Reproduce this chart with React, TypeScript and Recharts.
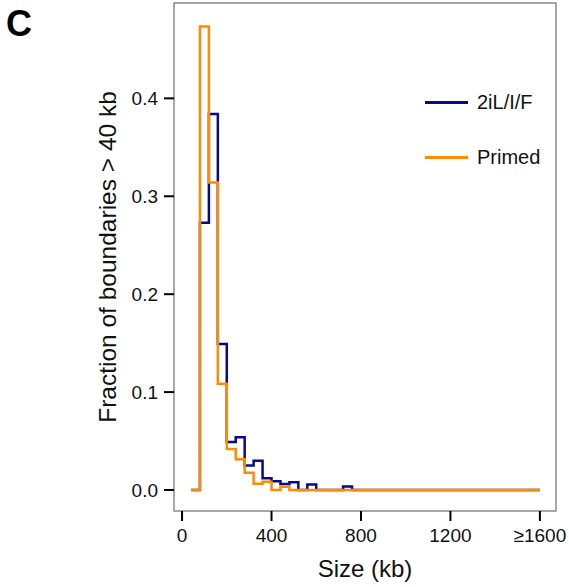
import { LineChart, Line, XAxis, YAxis, ReferenceArea, Legend } from "recharts";

// bin left edges (kb) and fraction per bin; last point closes the final bin
const naiveEdges = [40, 80, 120, 160, 200, 240, 280, 320, 360, 400, 440, 480, 520, 560, 600, 720, 760, 1600];
const naiveFrac = [0, 0.273, 0.384, 0.149, 0.049, 0.054, 0.025, 0.03, 0.012, 0.009, 0.006, 0.0078, 0, 0.0055, 0, 0.0035, 0, 0];

const primedEdges = [40, 80, 120, 160, 200, 240, 280, 320, 360, 400, 440, 480, 1600];
const primedFrac = [0, 0.4735, 0.314, 0.1085, 0.042, 0.0313, 0.0177, 0.0065, 0.0085, 0, 0.0034, 0, 0];

const xTicks = [0, 400, 800, 1200, 1600];
const xTickLabels = ["0", "400", "800", "1200", "≥1600"];
const yTicks = [0, 0.1, 0.2, 0.3, 0.4];

const NAVY = "#0a0a88";
const ORANGE = "#ff8c00";
const FONT = '"Liberation Sans", Arial, Helvetica, sans-serif';

const naiveData = naiveEdges.map((x, i) => ({ x, y: naiveFrac[i] }));
const primedData = primedEdges.map((x, i) => ({ x, y: primedFrac[i] }));

const legendItems = [
    { name: "2iL/I/F", color: NAVY },
    { name: "Primed", color: ORANGE },
];

const LegendBox = () => (
    <div style={{ fontFamily: FONT, fontSize: 20, color: "#111" }}>
        {legendItems.map((item, i) => (
            <div
                key={item.name}
                style={{ display: "flex", alignItems: "center", height: 30, marginBottom: i === 0 ? 25 : 0 }}
            >
                <span style={{ display: "inline-block", width: 43, height: 3, background: item.color, marginRight: 9 }} />
                <span>{item.name}</span>
            </div>
        ))}
    </div>
);

export default function App() {
    return (
        <div style={{ position: "absolute", left: 0, top: 0, width: 569, height: 587, background: "#fff", fontFamily: FONT }}>
            <div style={{ position: "absolute", left: 6, top: 6, fontSize: 36, lineHeight: "36px", fontWeight: "bold", color: "#000" }}>
                C
            </div>
            <LineChart width={569} height={587} data={primedData} margin={{ top: 3, right: 13, left: 0, bottom: 0 }}>
                <XAxis
                    type="number"
                    dataKey="x"
                    domain={[-36, 1672]}
                    allowDataOverflow
                    ticks={xTicks}
                    tickFormatter={(v: number) => xTickLabels[xTicks.indexOf(v)] ?? String(v)}
                    height={76}
                    axisLine={false}
                    tickSize={10}
                    tickMargin={8}
                    tickLine={{ stroke: "#000", strokeWidth: 2 }}
                    tick={{ fill: "#111", fontSize: 19, fontFamily: FONT }}
                    label={{ value: "Size (kb)", position: "insideBottom", offset: 10, fill: "#111", fontSize: 24, fontFamily: FONT }}
                />
                <YAxis
                    type="number"
                    dataKey="y"
                    domain={[-0.02145, 0.4974]}
                    allowDataOverflow
                    ticks={yTicks}
                    tickFormatter={(v: number) => v.toFixed(1)}
                    width={174}
                    axisLine={false}
                    tickSize={10}
                    tickMargin={6}
                    tickLine={{ stroke: "#000", strokeWidth: 2 }}
                    tick={{ fill: "#111", fontSize: 19, fontFamily: FONT }}
                    label={{
                        value: "Fraction of boundaries > 40 kb",
                        angle: -90,
                        position: "insideLeft",
                        offset: 107,
                        textAnchor: "middle",
                        fill: "#111",
                        fontSize: 24.5,
                        fontFamily: FONT,
                    }}
                />
                {/* panel frame */}
                <ReferenceArea x1={-36} x2={1672} y1={-0.02145} y2={0.4974} fill="none" stroke="#8a8a8a" strokeWidth={1.5} />
                <Legend
                    layout="vertical"
                    align="center"
                    verticalAlign="middle"
                    wrapperStyle={{ position: "absolute", top: 87, left: 425, width: 140 }}
                    content={() => <LegendBox />}
                />
                <Line
                    data={naiveData}
                    dataKey="y"
                    type="stepAfter"
                    stroke={NAVY}
                    strokeWidth={2.5}
                    dot={false}
                    activeDot={false}
                    isAnimationActive={false}
                    name="2iL/I/F"
                />
                <Line
                    data={primedData}
                    dataKey="y"
                    type="stepAfter"
                    stroke={ORANGE}
                    strokeWidth={2.5}
                    dot={false}
                    activeDot={false}
                    isAnimationActive={false}
                    name="Primed"
                />
            </LineChart>
        </div>
    );
}
